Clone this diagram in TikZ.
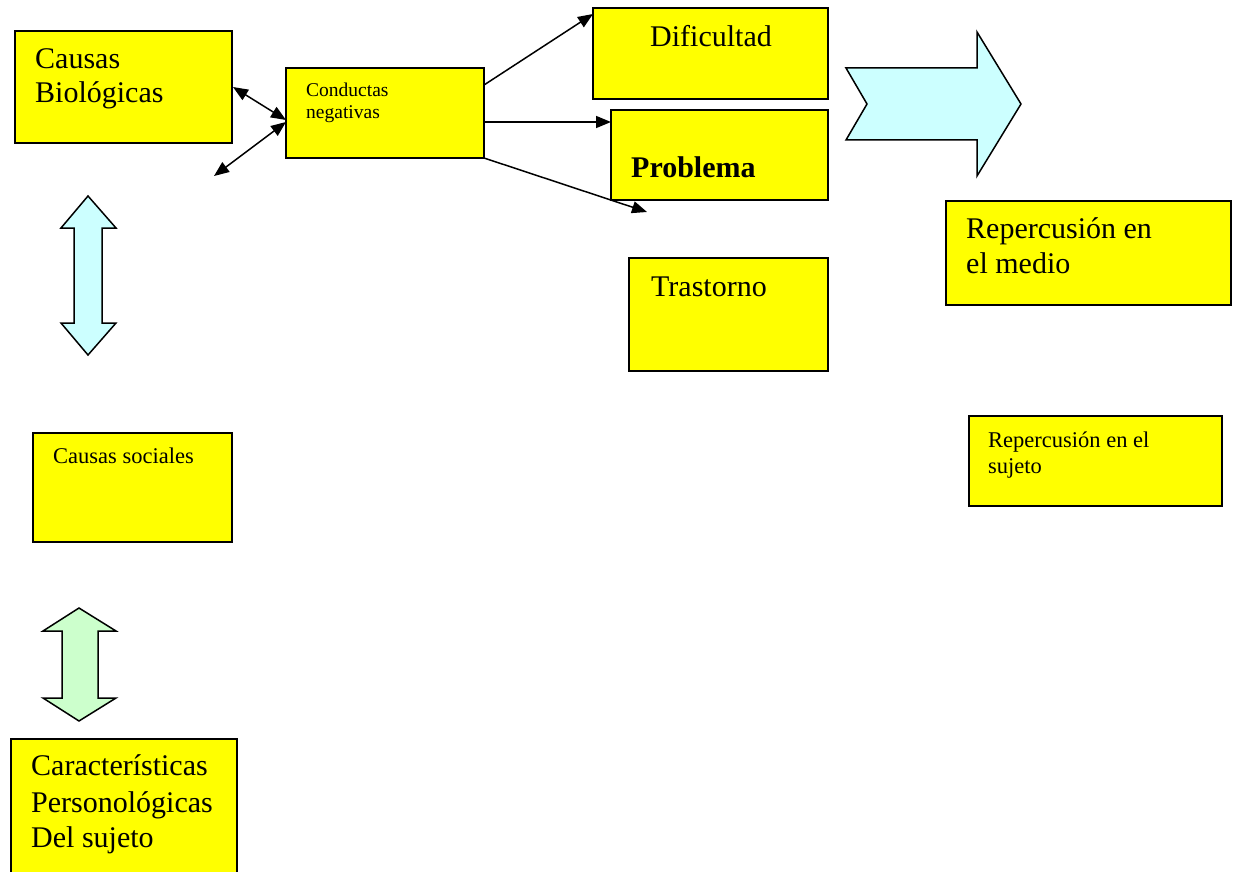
\documentclass[tikz,border=0pt]{standalone}
\usepackage{fontspec}
\setmainfont{Liberation Serif}
\usetikzlibrary{arrows.meta,calc}
\definecolor{boxyellow}{HTML}{FFFF00}
\definecolor{lightcyan}{HTML}{CCFFFF}
\definecolor{lightgreen}{HTML}{CCFFCC}
\tikzset{
  ybox/.style={draw=black, fill=boxyellow, line width=1.5pt, rectangle, inner sep=0pt, outer sep=0pt, anchor=north west},
  bigtxt/.style={anchor=base west, inner sep=0pt, font=\fontsize{30}{35}\selectfont},
  midtxt/.style={anchor=base west, inner sep=0pt, font=\fontsize{22.5}{26}\selectfont},
  smalltxt/.style={anchor=base west, inner sep=0pt, font=\fontsize{19.5}{22}\selectfont},
  conn/.style={line width=1.5pt, -{Triangle[length=15pt,width=12pt]}},
  dconn/.style={line width=1.5pt, {Triangle[length=15pt,width=12pt]}-{Triangle[length=15pt,width=12pt]}},
  blockarrow/.style={draw=black, line width=1.5pt, line join=miter},
}
\begin{document}
\begin{tikzpicture}[x=1pt,y=-1pt]
\useasboundingbox (0,0) rectangle (1235,872);
% boxes
\node[ybox, minimum width=217pt, minimum height=112pt] (bio) at (15,31) {};
\node[ybox, minimum width=198pt, minimum height=90pt] (cond) at (286,68) {};
\node[ybox, minimum width=235pt, minimum height=91pt] (dif) at (593,8) {};
\node[ybox, minimum width=217pt, minimum height=90pt] (prob) at (611,110) {};
\node[ybox, minimum width=199pt, minimum height=113pt] (tras) at (629,258) {};
\node[ybox, minimum width=285pt, minimum height=104pt] (medio) at (946,201) {};
\node[ybox, minimum width=253pt, minimum height=90pt] (suj) at (969,416) {};
\node[ybox, minimum width=199pt, minimum height=109pt] (soc) at (33,433) {};
\node[ybox, minimum width=226pt, minimum height=170pt] (car) at (11,739) {};
% texts
\node[bigtxt] (t1a) at (35,69) {Causas};
\node[bigtxt] (t1b) at (35,103) {Biológicas};
\node[smalltxt] (t2a) at (306,97) {Conductas};
\node[smalltxt] (t2b) at (306,119) {negativas};
\node[bigtxt] (t3) at (650,47) {Dificultad};
\node[bigtxt, font=\fontsize{30}{35}\selectfont\bfseries] (t4) at (631,178) {Problema};
\node[bigtxt] (t5) at (651,296) {Trastorno};
\node[bigtxt] (t6a) at (966,238) {Repercusión en};
\node[bigtxt] (t6b) at (966,273) {el medio};
\node[midtxt] (t7a) at (988,447) {Repercusión en el};
\node[midtxt] (t7b) at (988,473) {sujeto};
\node[midtxt] (t8) at (53,463) {Causas sociales};
\node[bigtxt] (t9a) at (31,775) {Características};
\node[bigtxt] (t9b) at (31,812) {Personológicas};
\node[bigtxt] (t9c) at (31,847) {Del sujeto};
% block arrows
\draw[blockarrow, fill=lightcyan] (846,68) -- (977,68) -- (977,32) -- (1021,104) -- (977,176) -- (977,140) -- (846,140) -- (867,104) -- cycle;
\draw[blockarrow, fill=lightcyan] (88,196) -- (116,228) -- (102,228) -- (102,323) -- (116,323) -- (88,355) -- (61,323) -- (74,323) -- (74,228) -- (61,228) -- cycle;
\draw[blockarrow, fill=lightgreen] (79,608) -- (116,631) -- (98,631) -- (98,698) -- (116,698) -- (79,721) -- (43,698) -- (62,698) -- (62,631) -- (43,631) -- cycle;
% connectors
\coordinate (free1) at (214,176);
\coordinate (free2) at (647,212);
\draw[dconn] ($(bio.north east)+(1,56)$) -- ($(cond.north west)+(0,52)$);
\draw[dconn] ($(cond.north west)+(0,54)$) -- (free1);
\draw[conn] ($(cond.north east)+(0,17)$) -- ($(dif.north west)+(0,6)$);
\draw[conn] ($(cond.north east)+(0,54)$) -- ($(prob.north west)+(0,12)$);
\draw[conn] (cond.south east) -- (free2);
\end{tikzpicture}
\end{document}
